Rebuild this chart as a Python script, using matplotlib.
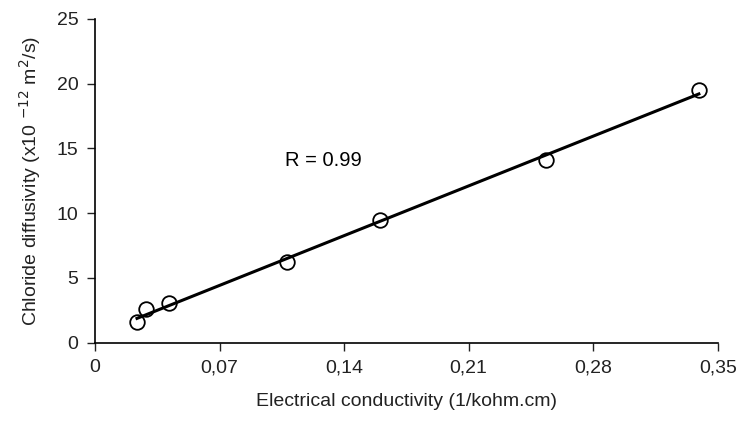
import numpy as np
import matplotlib
matplotlib.use("Agg")
import matplotlib.pyplot as plt

plt.rcParams['font.family'] = ['Liberation Sans', 'DejaVu Sans']

conductivity = [0.0236, 0.0287, 0.0415, 0.1078, 0.1603, 0.2532, 0.3394]
diffusivity = [1.57, 2.57, 3.03, 6.24, 9.45, 14.08, 19.52]
x_ticks = [0, 0.07, 0.14, 0.21, 0.28, 0.35]
x_ticklabels = ["0", "0,07", "0,14", "0,21", "0,28", "0,35"]
y_ticks = [0, 5, 10, 15, 20, 25]

fig = plt.figure(figsize=(7.39, 4.21), dpi=100)
ax = fig.add_axes([0.1286, 0.186, 0.9712 - 0.1286, 0.955 - 0.186])

x = np.array(conductivity)
y = np.array(diffusivity)
slope, intercept = np.polyfit(x, y, 1)
xl = np.array([x.min(), x.max()])
ax.plot(xl, slope * xl + intercept, color='black', lw=2.2, zorder=2)
ax.plot(x, y, 'o', mfc='none', mec='black', ms=10.5, mew=1.3, zorder=3)

ax.text(0.107, 14.1, "R = 0.99", fontsize=14.5, va='center', ha='left')

ax.set_xlim(0, 0.35)
ax.set_ylim(0, 25)
ax.set_xticks(x_ticks)
ax.set_xticklabels(x_ticklabels)
ax.set_yticks(y_ticks)
ax.tick_params(direction='out', length=6, width=1, labelsize=14, pad=6, colors='#222222')
for s in ['top', 'right']:
    ax.spines[s].set_visible(False)
for s in ['left', 'bottom']:
    ax.spines[s].set_linewidth(1.2)

ax.set_xlabel("Electrical conductivity (1/kohm.cm)", fontsize=14, labelpad=12, color='#222222')
ax.set_ylabel("Chloride diffusivity (x10 $^{-12}$ m$^2$/s)", fontsize=14, labelpad=10, color='#222222')

fig.savefig("out.png", dpi=100)
